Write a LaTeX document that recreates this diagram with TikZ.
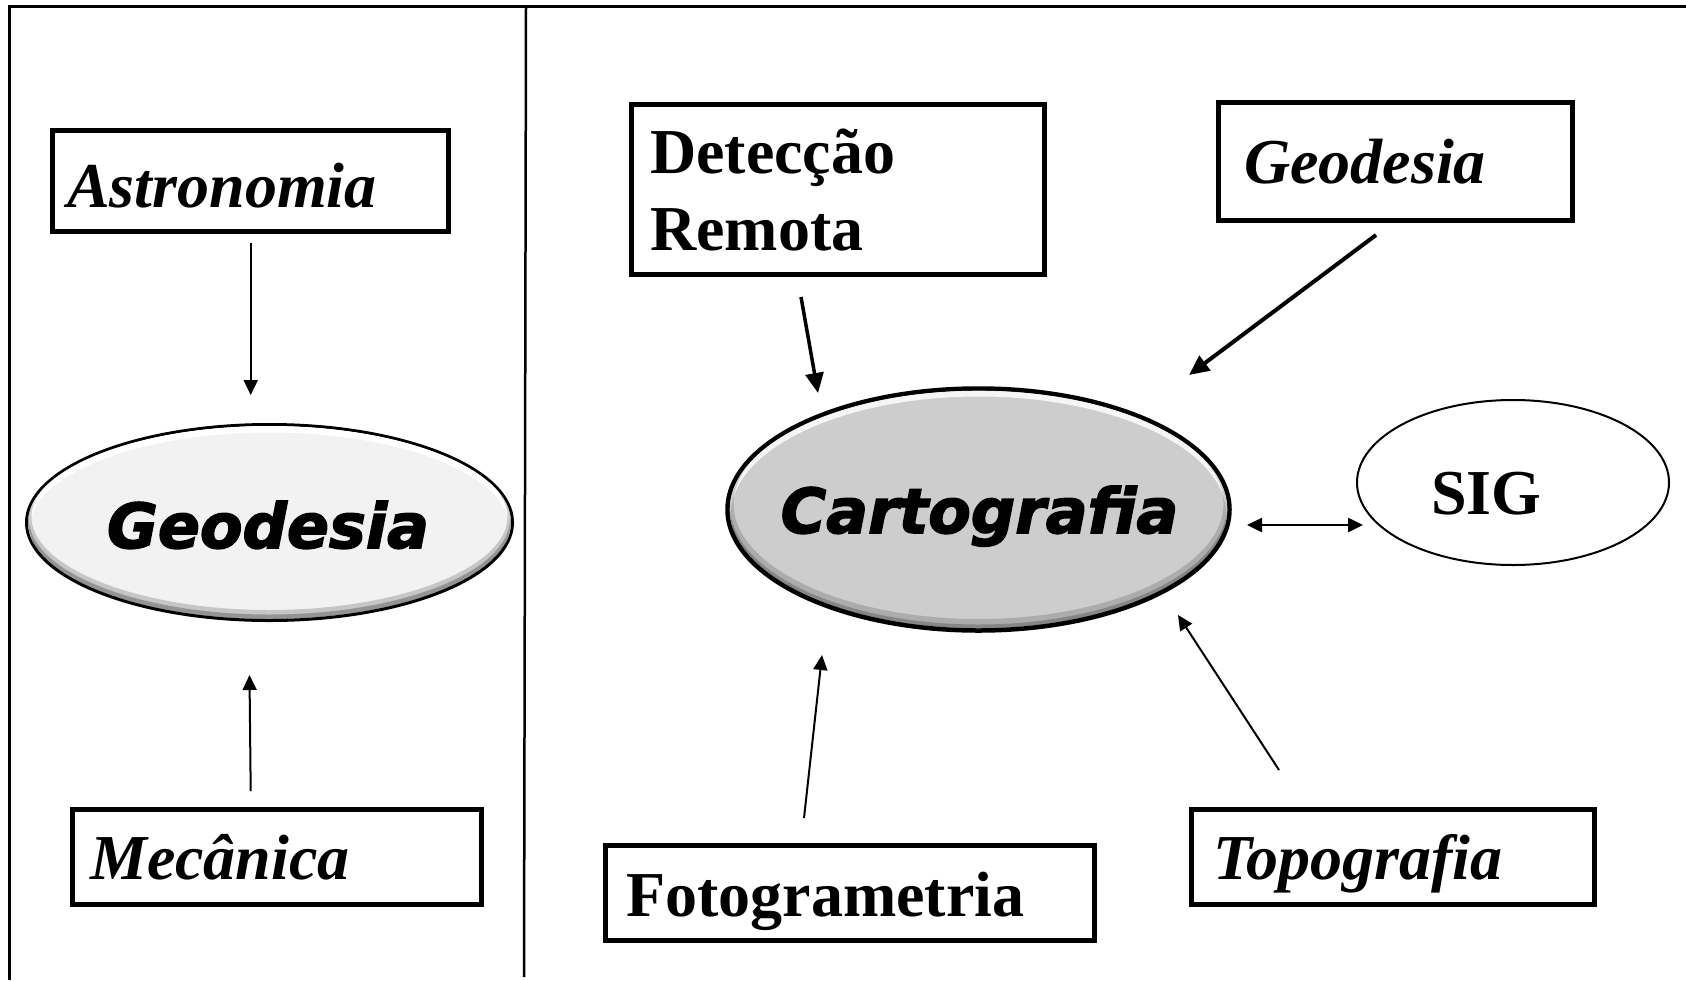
\documentclass[tikz,border=0pt]{standalone}
\usepackage{fontspec}
\setmainfont{Liberation Serif}
\newfontfamily\heavyfont[BoldItalicFeatures={FakeBold=2.5}]{DejaVu Sans}
\usetikzlibrary{arrows.meta,shapes.geometric}
\definecolor{geofill}{HTML}{F2F2F2}
\definecolor{cartfill}{HTML}{CDCDCD}
\tikzset{
  framebox/.style={draw=black, line width=5pt, rectangle, inner sep=0pt, fill=white},
  serifbi/.style={font=\fontsize{64}{77}\selectfont\bfseries\itshape, inner sep=0pt, anchor=base west},
  serifb/.style={font=\fontsize{64}{77}\selectfont\bfseries, inner sep=0pt, anchor=base west},
  heavy/.style={font=\heavyfont\fontsize{62}{70}\selectfont\bfseries\itshape, inner sep=0pt, anchor=base},
  thinarrow/.style={line width=2pt, -{Triangle[length=15pt,width=14pt]}},
  thickarrow/.style={line width=4pt, -{Triangle[length=20pt,width=18pt]}},
  dblarrow/.style={line width=2.5pt, {Triangle[length=15pt,width=14pt]}-{Triangle[length=15pt,width=14pt]}},
}
\begin{document}
\begin{tikzpicture}[x=1pt,y=-1pt]
\useasboundingbox (0,0) rectangle (1686,980);
\fill[white] (0,0) rectangle (1686,980);

% frame
\coordinate (tl) at (9.6,6);
\coordinate (tr) at (1686,6);
\coordinate (bl) at (9.6,980);
\coordinate (mt) at (526,6);
\coordinate (mb) at (524,977);
\draw[line width=3pt] (bl) -- (tl) -- (tr);
\draw[line width=2.5pt] (mt) -- (mb);

% ---------- left panel ----------
\node[framebox, minimum width=396pt, minimum height=101pt] (astroBox) at (250.5,181) {};
\node[serifbi] (astro) at (67,207) {Astronomia};

\node[framebox, minimum width=409pt, minimum height=95pt] (mecBox) at (277,857) {};
\node[serifbi] (mec) at (90,879) {Mecânica};

\node[ellipse, minimum width=486pt, minimum height=196pt, inner sep=0pt, fill=geofill, draw=black, line width=3pt] (geoEll) at (269.5,522.5) {};
\begin{scope}
  \clip (269.5,522.5) ellipse [x radius=241.5, y radius=96.5];
  \draw[white, line width=7pt] (269.5,527) ellipse [x radius=243, y radius=98];
  \draw[black, opacity=0.18, line width=10pt] (269.5,517) ellipse [x radius=243, y radius=98];
  \draw[black, opacity=0.25, line width=5pt] (269.5,519) ellipse [x radius=243, y radius=98];
\end{scope}
\node[heavy] (geoTxt) at (268,548) {Geodesia};

\coordinate (a1s) at (250.7,243);
\coordinate (a1e) at (250.7,395);
\draw[thinarrow] (a1s) -- (a1e);
\coordinate (a2s) at (250.7,791);
\coordinate (a2e) at (249.5,675);
\draw[thinarrow] (a2s) -- (a2e);

% ---------- right panel ----------
\node[framebox, minimum width=413pt, minimum height=170pt] (detBox) at (838,189.5) {};
\node[serifb] (det1) at (650,173) {Detecção};
\node[serifb] (det2) at (650,250) {Remota};

\node[framebox, minimum width=354pt, minimum height=118pt] (geoRBox) at (1395.5,161.5) {};
\node[serifbi] (geoR) at (1244,183) {Geodesia};

\node[framebox, minimum width=489pt, minimum height=95pt] (fotBox) at (850,893) {};
\node[serifb] (fot) at (626,916) {Fotogrametria};

\node[framebox, minimum width=403pt, minimum height=95pt] (topBox) at (1393,857) {};
\node[serifbi] (top) at (1213,879) {Topografia};

\node[ellipse, minimum width=502pt, minimum height=242pt, inner sep=0pt, fill=cartfill, draw=black, line width=4.5pt] (cartEll) at (978.5,509.5) {};
\begin{scope}
  \clip (978.5,509.5) ellipse [x radius=248.8, y radius=118.8];
  \draw[white, opacity=0.8, line width=7pt] (978.5,514) ellipse [x radius=251, y radius=121];
  \draw[black, opacity=0.16, line width=12pt] (978.5,504) ellipse [x radius=251, y radius=121];
  \draw[black, opacity=0.22, line width=5pt] (978.5,506) ellipse [x radius=251, y radius=121];
\end{scope}
\node[heavy] (cartTxt) at (979.5,533) {Cartografia};

\node[ellipse, minimum width=312pt, minimum height=165pt, inner sep=0pt, fill=white, draw=black, line width=2pt] (sigEll) at (1513,482.5) {};
\node[serifb, anchor=base] (sig) at (1486.5,514) {SIG};

\coordinate (a3s) at (801,297);
\coordinate (a3e) at (818,393);
\draw[thickarrow, line width=3.5pt] (a3s) -- (a3e);
\coordinate (a4s) at (1376,235);
\coordinate (a4e) at (1189,375);
\draw[thickarrow] (a4s) -- (a4e);
\coordinate (a5s) at (1247,525);
\coordinate (a5e) at (1363,525);
\draw[dblarrow] (a5s) -- (a5e);
\coordinate (a6s) at (804,818);
\coordinate (a6e) at (822,655);
\draw[thinarrow] (a6s) -- (a6e);
\coordinate (a7s) at (1279,770);
\coordinate (a7e) at (1178,615);
\draw[thinarrow] (a7s) -- (a7e);
\end{tikzpicture}
\end{document}
